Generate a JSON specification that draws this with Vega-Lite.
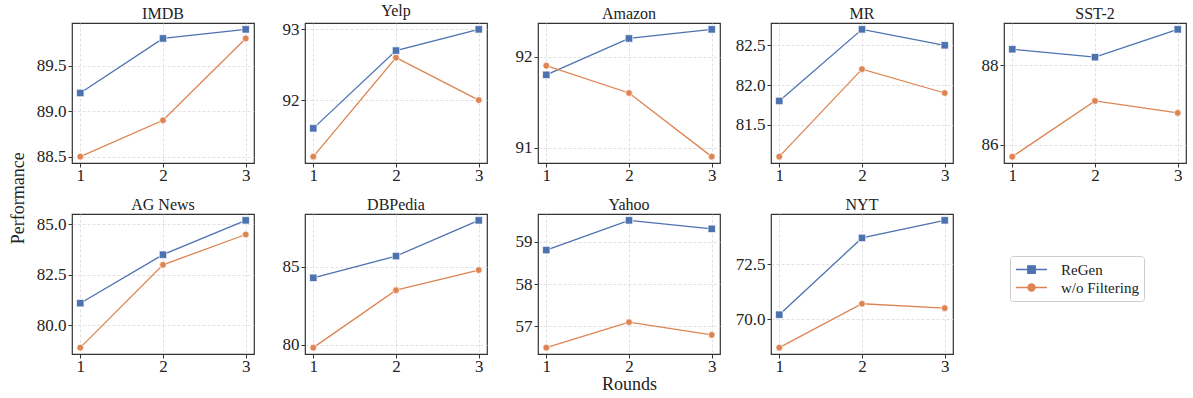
{
  "$schema": "https://vega.github.io/schema/vega-lite/v6.json",
  "padding": {"left": 9, "top": 2, "right": 4, "bottom": 4},
  "background": "white",
  "title": {"text": "Performance", "orient": "left", "anchor": "middle", "frame": "bounds", "fontSize": 18, "font": "Liberation Serif", "fontWeight": "normal", "color": "#222222", "offset": 8},
  "data": {"values": [
    {"dataset": "IMDB", "method": "ReGen", "round": 1, "value": 89.2},
    {"dataset": "IMDB", "method": "ReGen", "round": 2, "value": 89.8},
    {"dataset": "IMDB", "method": "ReGen", "round": 3, "value": 89.9},
    {"dataset": "IMDB", "method": "w/o Filtering", "round": 1, "value": 88.5},
    {"dataset": "IMDB", "method": "w/o Filtering", "round": 2, "value": 88.9},
    {"dataset": "IMDB", "method": "w/o Filtering", "round": 3, "value": 89.8},
    {"dataset": "Yelp", "method": "ReGen", "round": 1, "value": 91.6},
    {"dataset": "Yelp", "method": "ReGen", "round": 2, "value": 92.7},
    {"dataset": "Yelp", "method": "ReGen", "round": 3, "value": 93.0},
    {"dataset": "Yelp", "method": "w/o Filtering", "round": 1, "value": 91.2},
    {"dataset": "Yelp", "method": "w/o Filtering", "round": 2, "value": 92.6},
    {"dataset": "Yelp", "method": "w/o Filtering", "round": 3, "value": 92.0},
    {"dataset": "Amazon", "method": "ReGen", "round": 1, "value": 91.8},
    {"dataset": "Amazon", "method": "ReGen", "round": 2, "value": 92.2},
    {"dataset": "Amazon", "method": "ReGen", "round": 3, "value": 92.3},
    {"dataset": "Amazon", "method": "w/o Filtering", "round": 1, "value": 91.9},
    {"dataset": "Amazon", "method": "w/o Filtering", "round": 2, "value": 91.6},
    {"dataset": "Amazon", "method": "w/o Filtering", "round": 3, "value": 90.9},
    {"dataset": "MR", "method": "ReGen", "round": 1, "value": 81.8},
    {"dataset": "MR", "method": "ReGen", "round": 2, "value": 82.7},
    {"dataset": "MR", "method": "ReGen", "round": 3, "value": 82.5},
    {"dataset": "MR", "method": "w/o Filtering", "round": 1, "value": 81.1},
    {"dataset": "MR", "method": "w/o Filtering", "round": 2, "value": 82.2},
    {"dataset": "MR", "method": "w/o Filtering", "round": 3, "value": 81.9},
    {"dataset": "SST-2", "method": "ReGen", "round": 1, "value": 88.4},
    {"dataset": "SST-2", "method": "ReGen", "round": 2, "value": 88.2},
    {"dataset": "SST-2", "method": "ReGen", "round": 3, "value": 88.9},
    {"dataset": "SST-2", "method": "w/o Filtering", "round": 1, "value": 85.7},
    {"dataset": "SST-2", "method": "w/o Filtering", "round": 2, "value": 87.1},
    {"dataset": "SST-2", "method": "w/o Filtering", "round": 3, "value": 86.8},
    {"dataset": "AG News", "method": "ReGen", "round": 1, "value": 81.1},
    {"dataset": "AG News", "method": "ReGen", "round": 2, "value": 83.5},
    {"dataset": "AG News", "method": "ReGen", "round": 3, "value": 85.2},
    {"dataset": "AG News", "method": "w/o Filtering", "round": 1, "value": 78.9},
    {"dataset": "AG News", "method": "w/o Filtering", "round": 2, "value": 83.0},
    {"dataset": "AG News", "method": "w/o Filtering", "round": 3, "value": 84.5},
    {"dataset": "DBPedia", "method": "ReGen", "round": 1, "value": 84.3},
    {"dataset": "DBPedia", "method": "ReGen", "round": 2, "value": 85.7},
    {"dataset": "DBPedia", "method": "ReGen", "round": 3, "value": 88.0},
    {"dataset": "DBPedia", "method": "w/o Filtering", "round": 1, "value": 79.8},
    {"dataset": "DBPedia", "method": "w/o Filtering", "round": 2, "value": 83.5},
    {"dataset": "DBPedia", "method": "w/o Filtering", "round": 3, "value": 84.8},
    {"dataset": "Yahoo", "method": "ReGen", "round": 1, "value": 58.8},
    {"dataset": "Yahoo", "method": "ReGen", "round": 2, "value": 59.5},
    {"dataset": "Yahoo", "method": "ReGen", "round": 3, "value": 59.3},
    {"dataset": "Yahoo", "method": "w/o Filtering", "round": 1, "value": 56.5},
    {"dataset": "Yahoo", "method": "w/o Filtering", "round": 2, "value": 57.1},
    {"dataset": "Yahoo", "method": "w/o Filtering", "round": 3, "value": 56.8},
    {"dataset": "NYT", "method": "ReGen", "round": 1, "value": 70.2},
    {"dataset": "NYT", "method": "ReGen", "round": 2, "value": 73.7},
    {"dataset": "NYT", "method": "ReGen", "round": 3, "value": 74.5},
    {"dataset": "NYT", "method": "w/o Filtering", "round": 1, "value": 68.7},
    {"dataset": "NYT", "method": "w/o Filtering", "round": 2, "value": 70.7},
    {"dataset": "NYT", "method": "w/o Filtering", "round": 3, "value": 70.5}
  ]},
  "columns": 5,
  "bounds": "flush",
  "spacing": {"row": 51, "column": 51},
  "concat": [
    {"title": {"text": "IMDB", "font": "Liberation Serif", "fontSize": 16, "fontWeight": "normal", "offset": 1}, "width": 182, "height": 140,
     "transform": [{"filter": "datum.dataset === 'IMDB'"}],
     "encoding": {
       "x": {"field": "round", "type": "quantitative", "scale": {"domain": [0.9, 3.1], "nice": false}, "axis": {"values": [1, 2, 3], "format": "d", "title": null, "labelFont": "Liberation Serif", "labelFontSize": 17}},
       "y": {"field": "value", "type": "quantitative", "scale": {"domain": [88.43, 89.97], "nice": false, "zero": false}, "axis": {"values": [88.5, 89.0, 89.5], "format": ".1f", "title": null, "labelFont": "Liberation Serif", "labelFontSize": 17}},
       "color": {"field": "method", "type": "nominal", "scale": {"domain": ["ReGen", "w/o Filtering"], "range": ["#4c72b0", "#dd8452"]},
         "legend": {"title": null, "orient": "none", "legendX": 938, "legendY": 233, "symbolSize": 225, "symbolStrokeWidth": 1.4, "labelOffset": 29, "rowPadding": 1, "padding": 5, "labelFontSize": 15, "labelFont": "Liberation Serif", "labelColor": "#222222", "strokeColor": "#cccccc", "cornerRadius": 3, "fillColor": "white",
           "encode": {"symbols": {"update": {
             "shape": {"signal": "datum.value === 'ReGen' ? 'M-1,0H3.13M0.58,-0.49H1.56V0.49H0.58Z' : 'M-1,0H3.13M0.6,0A0.47,0.47 0 1,1 1.54,0A0.47,0.47 0 1,1 0.6,0Z'"},
             "fill": {"signal": "datum.value === 'ReGen' ? '#4c72b0' : '#dd8452'"},
             "stroke": {"signal": "datum.value === 'ReGen' ? '#4c72b0' : '#dd8452'"}}},
             "labels": {"update": {"font": {"value": "Liberation Serif"}, "fontSize": {"value": 15}}}}}}
     },
     "layer": [
       {"mark": {"type": "line", "strokeWidth": 1.3}},
       {"transform": [{"filter": "datum.method === 'ReGen'"}], "mark": {"type": "point", "shape": "square", "size": 55, "filled": true, "opacity": 1, "stroke": "white", "strokeWidth": 0.7}},
       {"transform": [{"filter": "datum.method !== 'ReGen'"}], "mark": {"type": "point", "shape": "circle", "size": 45, "filled": true, "opacity": 1, "stroke": "white", "strokeWidth": 0.7}}
     ]},
    {"title": {"text": "Yelp", "font": "Liberation Serif", "fontSize": 16, "fontWeight": "normal", "offset": 1}, "width": 182, "height": 140,
     "transform": [{"filter": "datum.dataset === 'Yelp'"}],
     "encoding": {
       "x": {"field": "round", "type": "quantitative", "scale": {"domain": [0.9, 3.1], "nice": false}, "axis": {"values": [1, 2, 3], "format": "d", "title": null, "labelFont": "Liberation Serif", "labelFontSize": 17}},
       "y": {"field": "value", "type": "quantitative", "scale": {"domain": [91.11, 93.09], "nice": false, "zero": false}, "axis": {"values": [92, 93], "format": "d", "title": null, "labelFont": "Liberation Serif", "labelFontSize": 17}},
       "color": {"field": "method", "type": "nominal"}
     },
     "layer": [
       {"mark": {"type": "line", "strokeWidth": 1.3}},
       {"transform": [{"filter": "datum.method === 'ReGen'"}], "mark": {"type": "point", "shape": "square", "size": 55, "filled": true, "opacity": 1, "stroke": "white", "strokeWidth": 0.7}},
       {"transform": [{"filter": "datum.method !== 'ReGen'"}], "mark": {"type": "point", "shape": "circle", "size": 45, "filled": true, "opacity": 1, "stroke": "white", "strokeWidth": 0.7}}
     ]},
    {"title": {"text": "Amazon", "font": "Liberation Serif", "fontSize": 16, "fontWeight": "normal", "offset": 1}, "width": 182, "height": 140,
     "transform": [{"filter": "datum.dataset === 'Amazon'"}],
     "encoding": {
       "x": {"field": "round", "type": "quantitative", "scale": {"domain": [0.9, 3.1], "nice": false}, "axis": {"values": [1, 2, 3], "format": "d", "title": null, "labelFont": "Liberation Serif", "labelFontSize": 17}},
       "y": {"field": "value", "type": "quantitative", "scale": {"domain": [90.83, 92.37], "nice": false, "zero": false}, "axis": {"values": [91, 92], "format": "d", "title": null, "labelFont": "Liberation Serif", "labelFontSize": 17}},
       "color": {"field": "method", "type": "nominal"}
     },
     "layer": [
       {"mark": {"type": "line", "strokeWidth": 1.3}},
       {"transform": [{"filter": "datum.method === 'ReGen'"}], "mark": {"type": "point", "shape": "square", "size": 55, "filled": true, "opacity": 1, "stroke": "white", "strokeWidth": 0.7}},
       {"transform": [{"filter": "datum.method !== 'ReGen'"}], "mark": {"type": "point", "shape": "circle", "size": 45, "filled": true, "opacity": 1, "stroke": "white", "strokeWidth": 0.7}}
     ]},
    {"title": {"text": "MR", "font": "Liberation Serif", "fontSize": 16, "fontWeight": "normal", "offset": 1}, "width": 182, "height": 140,
     "transform": [{"filter": "datum.dataset === 'MR'"}],
     "encoding": {
       "x": {"field": "round", "type": "quantitative", "scale": {"domain": [0.9, 3.1], "nice": false}, "axis": {"values": [1, 2, 3], "format": "d", "title": null, "labelFont": "Liberation Serif", "labelFontSize": 17}},
       "y": {"field": "value", "type": "quantitative", "scale": {"domain": [81.02, 82.78], "nice": false, "zero": false}, "axis": {"values": [81.5, 82.0, 82.5], "format": ".1f", "title": null, "labelFont": "Liberation Serif", "labelFontSize": 17}},
       "color": {"field": "method", "type": "nominal"}
     },
     "layer": [
       {"mark": {"type": "line", "strokeWidth": 1.3}},
       {"transform": [{"filter": "datum.method === 'ReGen'"}], "mark": {"type": "point", "shape": "square", "size": 55, "filled": true, "opacity": 1, "stroke": "white", "strokeWidth": 0.7}},
       {"transform": [{"filter": "datum.method !== 'ReGen'"}], "mark": {"type": "point", "shape": "circle", "size": 45, "filled": true, "opacity": 1, "stroke": "white", "strokeWidth": 0.7}}
     ]},
    {"title": {"text": "SST-2", "font": "Liberation Serif", "fontSize": 16, "fontWeight": "normal", "offset": 1}, "width": 182, "height": 140,
     "transform": [{"filter": "datum.dataset === 'SST-2'"}],
     "encoding": {
       "x": {"field": "round", "type": "quantitative", "scale": {"domain": [0.9, 3.1], "nice": false}, "axis": {"values": [1, 2, 3], "format": "d", "title": null, "labelFont": "Liberation Serif", "labelFontSize": 17}},
       "y": {"field": "value", "type": "quantitative", "scale": {"domain": [85.54, 89.06], "nice": false, "zero": false}, "axis": {"values": [86, 88], "format": "d", "title": null, "labelFont": "Liberation Serif", "labelFontSize": 17}},
       "color": {"field": "method", "type": "nominal"}
     },
     "layer": [
       {"mark": {"type": "line", "strokeWidth": 1.3}},
       {"transform": [{"filter": "datum.method === 'ReGen'"}], "mark": {"type": "point", "shape": "square", "size": 55, "filled": true, "opacity": 1, "stroke": "white", "strokeWidth": 0.7}},
       {"transform": [{"filter": "datum.method !== 'ReGen'"}], "mark": {"type": "point", "shape": "circle", "size": 45, "filled": true, "opacity": 1, "stroke": "white", "strokeWidth": 0.7}}
     ]},
    {"title": {"text": "AG News", "font": "Liberation Serif", "fontSize": 16, "fontWeight": "normal", "offset": 1}, "width": 182, "height": 140,
     "transform": [{"filter": "datum.dataset === 'AG News'"}],
     "encoding": {
       "x": {"field": "round", "type": "quantitative", "scale": {"domain": [0.9, 3.1], "nice": false}, "axis": {"values": [1, 2, 3], "format": "d", "title": null, "labelFont": "Liberation Serif", "labelFontSize": 17}},
       "y": {"field": "value", "type": "quantitative", "scale": {"domain": [78.585, 85.515], "nice": false, "zero": false}, "axis": {"values": [80.0, 82.5, 85.0], "format": ".1f", "title": null, "labelFont": "Liberation Serif", "labelFontSize": 17}},
       "color": {"field": "method", "type": "nominal"}
     },
     "layer": [
       {"mark": {"type": "line", "strokeWidth": 1.3}},
       {"transform": [{"filter": "datum.method === 'ReGen'"}], "mark": {"type": "point", "shape": "square", "size": 55, "filled": true, "opacity": 1, "stroke": "white", "strokeWidth": 0.7}},
       {"transform": [{"filter": "datum.method !== 'ReGen'"}], "mark": {"type": "point", "shape": "circle", "size": 45, "filled": true, "opacity": 1, "stroke": "white", "strokeWidth": 0.7}}
     ]},
    {"title": {"text": "DBPedia", "font": "Liberation Serif", "fontSize": 16, "fontWeight": "normal", "offset": 1}, "width": 182, "height": 140,
     "transform": [{"filter": "datum.dataset === 'DBPedia'"}],
     "encoding": {
       "x": {"field": "round", "type": "quantitative", "scale": {"domain": [0.9, 3.1], "nice": false}, "axis": {"values": [1, 2, 3], "format": "d", "title": null, "labelFont": "Liberation Serif", "labelFontSize": 17}},
       "y": {"field": "value", "type": "quantitative", "scale": {"domain": [79.39, 88.41], "nice": false, "zero": false}, "axis": {"values": [80, 85], "format": "d", "title": null, "labelFont": "Liberation Serif", "labelFontSize": 17}},
       "color": {"field": "method", "type": "nominal"}
     },
     "layer": [
       {"mark": {"type": "line", "strokeWidth": 1.3}},
       {"transform": [{"filter": "datum.method === 'ReGen'"}], "mark": {"type": "point", "shape": "square", "size": 55, "filled": true, "opacity": 1, "stroke": "white", "strokeWidth": 0.7}},
       {"transform": [{"filter": "datum.method !== 'ReGen'"}], "mark": {"type": "point", "shape": "circle", "size": 45, "filled": true, "opacity": 1, "stroke": "white", "strokeWidth": 0.7}}
     ]},
    {"title": {"text": "Yahoo", "font": "Liberation Serif", "fontSize": 16, "fontWeight": "normal", "offset": 1}, "width": 182, "height": 140,
     "transform": [{"filter": "datum.dataset === 'Yahoo'"}],
     "encoding": {
       "x": {"field": "round", "type": "quantitative", "scale": {"domain": [0.9, 3.1], "nice": false}, "axis": {"values": [1, 2, 3], "format": "d", "title": "Rounds", "labelFont": "Liberation Serif", "labelFontSize": 17, "titlePadding": 1}},
       "y": {"field": "value", "type": "quantitative", "scale": {"domain": [56.35, 59.65], "nice": false, "zero": false}, "axis": {"values": [57, 58, 59], "format": "d", "title": null, "labelFont": "Liberation Serif", "labelFontSize": 17}},
       "color": {"field": "method", "type": "nominal"}
     },
     "layer": [
       {"mark": {"type": "line", "strokeWidth": 1.3}},
       {"transform": [{"filter": "datum.method === 'ReGen'"}], "mark": {"type": "point", "shape": "square", "size": 55, "filled": true, "opacity": 1, "stroke": "white", "strokeWidth": 0.7}},
       {"transform": [{"filter": "datum.method !== 'ReGen'"}], "mark": {"type": "point", "shape": "circle", "size": 45, "filled": true, "opacity": 1, "stroke": "white", "strokeWidth": 0.7}}
     ]},
    {"title": {"text": "NYT", "font": "Liberation Serif", "fontSize": 16, "fontWeight": "normal", "offset": 1}, "width": 182, "height": 140,
     "transform": [{"filter": "datum.dataset === 'NYT'"}],
     "encoding": {
       "x": {"field": "round", "type": "quantitative", "scale": {"domain": [0.9, 3.1], "nice": false}, "axis": {"values": [1, 2, 3], "format": "d", "title": null, "labelFont": "Liberation Serif", "labelFontSize": 17}},
       "y": {"field": "value", "type": "quantitative", "scale": {"domain": [68.41, 74.79], "nice": false, "zero": false}, "axis": {"values": [70.0, 72.5], "format": ".1f", "title": null, "labelFont": "Liberation Serif", "labelFontSize": 17}},
       "color": {"field": "method", "type": "nominal"}
     },
     "layer": [
       {"mark": {"type": "line", "strokeWidth": 1.3}},
       {"transform": [{"filter": "datum.method === 'ReGen'"}], "mark": {"type": "point", "shape": "square", "size": 55, "filled": true, "opacity": 1, "stroke": "white", "strokeWidth": 0.7}},
       {"transform": [{"filter": "datum.method !== 'ReGen'"}], "mark": {"type": "point", "shape": "circle", "size": 45, "filled": true, "opacity": 1, "stroke": "white", "strokeWidth": 0.7}}
     ]}
  ],
  "config": {
    "font": "Liberation Serif",
    "view": {"stroke": "#333333", "strokeWidth": 1.2},
    "axis": {"labelFont": "Liberation Serif", "labelFontSize": 17, "labelColor": "#222222", "tickColor": "#333333", "tickSize": 4, "tickWidth": 1, "labelPadding": 2, "domain": false, "grid": true, "gridColor": "#d9d9d9", "gridDash": [3, 2], "gridWidth": 0.8, "titleFont": "Liberation Serif", "titleFontSize": 18, "titleFontWeight": "normal", "titleColor": "#222222", "titlePadding": 1, "labelFlush": false, "labelOverlap": false},
    "axisX": {"labelPadding": 0},
    "title": {"font": "Liberation Serif", "fontSize": 16, "fontWeight": "normal", "offset": 1, "color": "#222222"},
    "style": {
      "group-title": {"font": "Liberation Serif", "fontSize": 16, "fontWeight": "normal"},
      "guide-label": {"font": "Liberation Serif"},
      "guide-title": {"font": "Liberation Serif", "fontWeight": "normal"}
    }
  }
}
